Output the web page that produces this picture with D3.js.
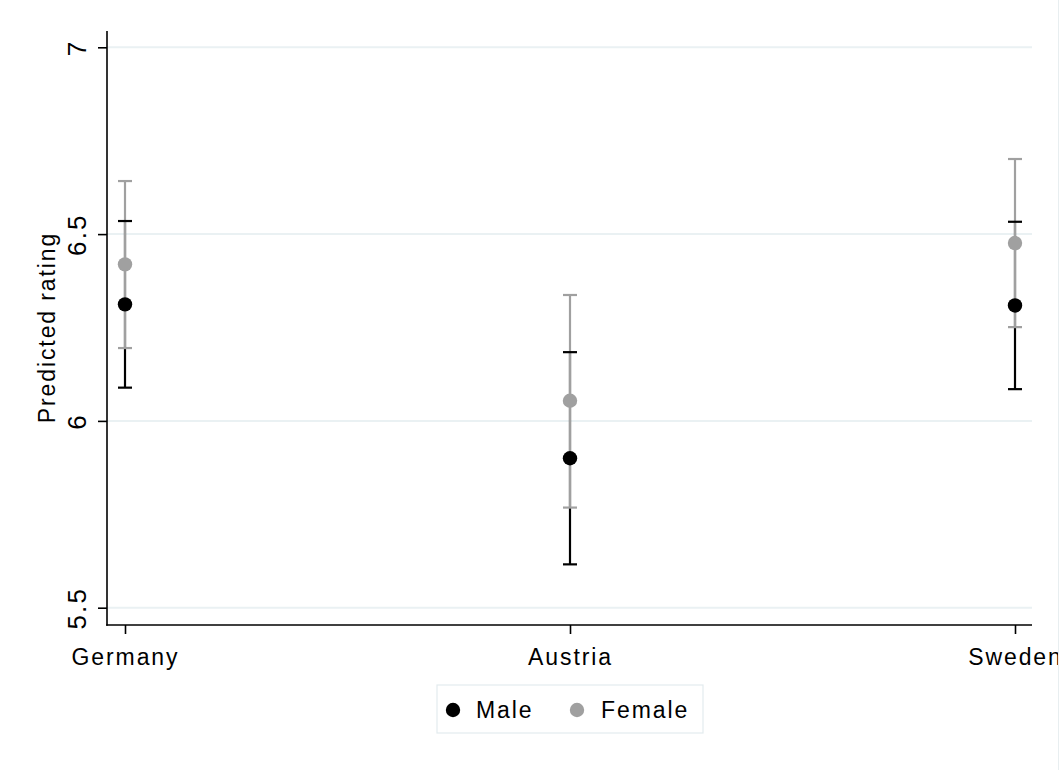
<!DOCTYPE html>
<html>
<head>
<meta charset="utf-8">
<script src="https://cdn.jsdelivr.net/npm/d3@7"></script>
<style>
  html, body { margin: 0; padding: 0; background: #fff; }
  svg { display: block; }
  text { font-family: "Liberation Sans", Arial, sans-serif; font-size: 23px; letter-spacing: 1.9px; fill: #000; }
</style>
</head>
<body>
<svg id="chart" width="1064" height="770"></svg>
<script>
// ---- data ----
const categories = ["Germany", "Austria", "Sweden"];
const maleMean  = [6.312, 5.900, 6.309];
const maleLow   = [6.089, 5.616, 6.085];
const maleHigh  = [6.535, 6.184, 6.533];
const femaleMean = [6.419, 6.054, 6.476];
const femaleLow  = [6.195, 5.768, 6.251];
const femaleHigh = [6.642, 6.337, 6.701];
const yTicks = [5.5, 6, 6.5, 7];
const seriesNames = ["Male", "Female"];
const seriesColors = ["#000000", "#a0a0a0"];
const yLabel = "Predicted rating";

// ---- layout ----
const W = 1064, H = 770;
const plotLeft = 107, plotRight = 1032, plotTop = 31, plotBottom = 625;
const clipRight = 1058;

const svg = d3.select("#chart");
svg.append("rect").attr("width", W).attr("height", H).attr("fill", "#fff");
svg.append("defs").append("clipPath").attr("id", "clipAll")
  .append("rect").attr("x", 0).attr("y", 0).attr("width", clipRight).attr("height", H);
const g = svg.append("g").attr("clip-path", "url(#clipAll)");

const x = d3.scalePoint().domain(categories).range([125, 1015]);
const y = d3.scaleLinear().domain([5.5, 7]).range([607.7, 47.3]);

// gridlines
g.append("g").selectAll("line").data(yTicks).join("line")
  .attr("x1", plotLeft).attr("x2", plotRight)
  .attr("y1", d => y(d)).attr("y2", d => y(d))
  .attr("stroke", "#eaf1f3").attr("stroke-width", 2);

// y axis
const yAxis = d3.axisLeft(y).tickValues(yTicks).tickSize(9).tickFormat(d3.format("~g"));
const yg = g.append("g").attr("transform", `translate(${plotLeft},0)`).call(yAxis);
yg.select(".domain").remove();
yg.selectAll(".tick line").attr("stroke", "#000").attr("stroke-width", 1.6);
yg.selectAll(".tick text")
  .attr("x", null).attr("dy", null)
  .attr("text-anchor", "middle")
  .attr("transform", "translate(-21,0) rotate(-90)")
  .style("font-size", "26px").style("letter-spacing", "2.2px");
g.append("line").attr("x1", plotLeft).attr("x2", plotLeft)
  .attr("y1", plotTop).attr("y2", plotBottom + 0.8)
  .attr("stroke", "#000").attr("stroke-width", 1.6);

// x axis
const xAxis = d3.axisBottom(x).tickSize(9).tickPadding(0);
const xg = g.append("g").attr("transform", `translate(0,${plotBottom})`).call(xAxis);
xg.select(".domain").remove();
xg.selectAll(".tick line").attr("stroke", "#000").attr("stroke-width", 1.6);
xg.selectAll(".tick text").attr("dy", null).attr("y", 40).style("font-size", "23px");
g.append("line").attr("x1", plotLeft - 0.8).attr("x2", plotRight)
  .attr("y1", plotBottom).attr("y2", plotBottom)
  .attr("stroke", "#000").attr("stroke-width", 1.6);

// y label
g.append("text")
  .attr("transform", `translate(55,${(y(5.5) + y(7)) / 2}) rotate(-90)`)
  .attr("text-anchor", "middle")
  .text(yLabel);

// series
const series = [
  { name: seriesNames[0], color: seriesColors[0], mean: maleMean, low: maleLow, high: maleHigh },
  { name: seriesNames[1], color: seriesColors[1], mean: femaleMean, low: femaleLow, high: femaleHigh }
];
const capW = 7;
series.forEach(s => {
  g.append("g").selectAll("line").data(categories).join("line")
    .attr("x1", d => x(d)).attr("x2", d => x(d))
    .attr("y1", (d, i) => y(s.low[i])).attr("y2", (d, i) => y(s.high[i]))
    .attr("stroke", s.color).attr("stroke-width", 2.2);
});
series.forEach(s => {
  const cg = g.append("g");
  cg.selectAll("line.lo").data(categories).join("line").attr("class", "lo")
    .attr("x1", d => x(d) - capW).attr("x2", d => x(d) + capW)
    .attr("y1", (d, i) => y(s.low[i])).attr("y2", (d, i) => y(s.low[i]))
    .attr("stroke", s.color).attr("stroke-width", 2.2);
  cg.selectAll("line.hi").data(categories).join("line").attr("class", "hi")
    .attr("x1", d => x(d) - capW).attr("x2", d => x(d) + capW)
    .attr("y1", (d, i) => y(s.high[i])).attr("y2", (d, i) => y(s.high[i]))
    .attr("stroke", s.color).attr("stroke-width", 2.2);
});
series.forEach(s => {
  g.append("g").selectAll("circle").data(categories).join("circle")
    .attr("cx", d => x(d)).attr("cy", (d, i) => y(s.mean[i]))
    .attr("r", 7.2).attr("fill", s.color);
});

// legend
const lg = g.append("g");
lg.append("rect").attr("x", 437).attr("y", 685).attr("width", 266).attr("height", 48)
  .attr("fill", "#fff").attr("stroke", "#e3ebee").attr("stroke-width", 1.2);
const legendPos = [{ cx: 453, tx: 476 }, { cx: 577, tx: 601 }];
series.forEach((s, i) => {
  lg.append("circle").attr("cx", legendPos[i].cx).attr("cy", 710).attr("r", 7.2).attr("fill", s.color);
  lg.append("text").attr("x", legendPos[i].tx).attr("y", 718).text(s.name);
});

// right border of graph region
svg.append("line").attr("x1", clipRight + 0.5).attr("x2", clipRight + 0.5)
  .attr("y1", 0).attr("y2", H).attr("stroke", "#e8eef0").attr("stroke-width", 1);
</script>
</body>
</html>
